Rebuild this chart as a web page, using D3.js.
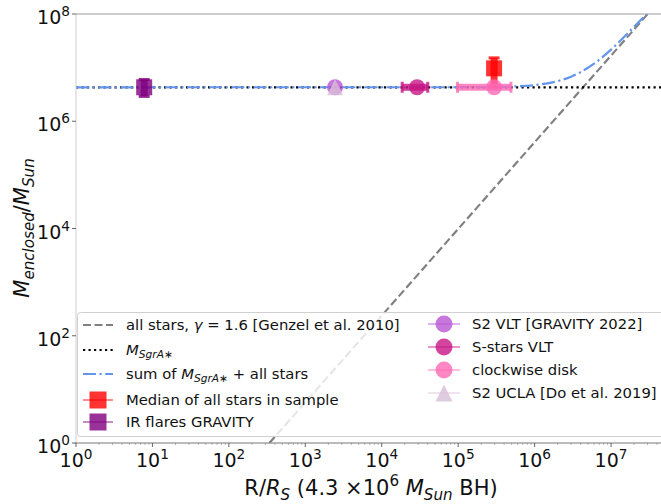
<!DOCTYPE html>
<html>
<head>
<meta charset="utf-8">
<script src="https://cdn.jsdelivr.net/npm/d3@7"></script>
<style>
  body { margin: 0; background: #fff; }
  text { font-family: "DejaVu Sans", sans-serif; }
</style>
</head>
<body>
<svg id="chart"></svg>
<script>
// ---- data ----
var sgrR = [1, 5e7];
var sgrM = [4.3e6, 4.3e6];

// all stars, gamma = 1.6 (straight in log-log)
var starsR = [339, 3.2e7];
var starsM = [1, 1.1e8];

// sum of M_SgrA* + all stars
var sumR = [1, 1e5, 3e5, 5e5, 1e6, 2e6, 3e6, 4e6, 6e6, 1e7, 1.5e7, 2e7, 3.2e7];
var sumM = [4.3e6, 4.31e6, 4.35e6, 4.44e6, 4.72e6, 5.6e6, 6.78e6, 8.25e6, 1.19e7, 2.17e7, 3.79e7, 5.79e7, 1.14e8];

// measurements
var ptNames = ["Median of all stars in sample", "IR flares GRAVITY", "S2 VLT [GRAVITY 2022]",
               "S-stars VLT", "clockwise disk", "S2 UCLA [Do et al. 2019]"];
var ptR    = [2.95e5, 7.8, 2450, 2.9e4, 2.95e5, 2450];
var ptM    = [9.7e6, 4.3e6, 4.3e6, 4.3e6, 4.3e6, 4.3e6];
var ptRlo  = [null, null, null, 1.85e4, 9.8e4, null];
var ptRhi  = [null, null, null, 4.0e4, 4.9e5, null];
var ptMlo  = [4.3e6, 2.9e6, null, null, null, null];
var ptMhi  = [1.52e7, 6.0e6, null, null, null, null];
var ptColor = ["red", "purple", "mediumorchid", "mediumvioletred", "hotpink", "thistle"];
var ptShape = ["square", "square", "circle", "circle", "circle", "triangle"];

var xTicks = [1e0, 1e1, 1e2, 1e3, 1e4, 1e5, 1e6, 1e7];
var yTicks = [1e0, 1e2, 1e4, 1e6, 1e8];

// ---- layout ----
var width = 661, height = 504;
var mLeft = 76, mTop = 14, mBottom = 443, mRight = 661.5;
var xMax = Math.pow(10, 7.66);

var svg = d3.select("#chart").attr("width", width).attr("height", height);

var x = d3.scaleLog().domain([1, xMax]).range([mLeft, mRight]);
var y = d3.scaleLog().domain([1, 1e8]).range([mBottom, mTop]);

svg.append("clipPath").attr("id", "clip")
  .append("rect").attr("x", mLeft).attr("y", mTop)
  .attr("width", mRight - mLeft).attr("height", mBottom - mTop);

// rich text helper: parts = [[text, flags]] flags: i italic, b sub, p sup
function rich(t, parts, size) {
  var shift = 0;
  parts.forEach(function(p) {
    var s = t.append("tspan").text(p[0]);
    var f = p[1] || "";
    var target = 0;
    if (f.indexOf("b") >= 0) target = 0.22 * size;
    if (f.indexOf("p") >= 0) target = -0.42 * size;
    if (target !== shift) { s.attr("dy", target - shift); shift = target; }
    s.attr("font-size", (f.indexOf("b") >= 0 || f.indexOf("p") >= 0) ? size * 0.72 : size);
    if (f.indexOf("i") >= 0) s.attr("font-style", "italic");
  });
  return t;
}

var plot = svg.append("g").attr("clip-path", "url(#clip)");

var line = d3.line().x(function(d) { return x(d[0]); }).y(function(d) { return y(d[1]); });

plot.append("path")
  .attr("d", line(d3.zip(starsR, starsM)))
  .attr("fill", "none").attr("stroke", "gray").attr("stroke-width", 2.2)
  .attr("stroke-dasharray", "8,3.5");

plot.append("path")
  .attr("d", line(d3.zip(sgrR, sgrM)))
  .attr("fill", "none").attr("stroke", "black").attr("stroke-width", 2.2)
  .attr("stroke-dasharray", "2.2,3.3");

plot.append("path")
  .attr("d", line.curve(d3.curveMonotoneX)(d3.zip(sumR, sumM)))
  .attr("fill", "none").attr("stroke", "cornflowerblue").attr("stroke-width", 2.2)
  .attr("stroke-dasharray", "13,3.5,2.2,3.5");
line.curve(d3.curveLinear);

function markerPath(shape, s) {
  var h = s / 2;
  if (shape === "square") return "M" + (-h) + "," + (-h) + "h" + s + "v" + s + "h" + (-s) + "Z";
  if (shape === "triangle") return "M0," + (-h) + "L" + h + "," + h + "L" + (-h) + "," + h + "Z";
  return d3.symbol().type(d3.symbolCircle).size(Math.PI * h * h)();
}

var alpha = 0.8;
ptNames.forEach(function(name, i) {
  var g = plot.append("g");
  var cx = x(ptR[i]), cy = y(ptM[i]), c = ptColor[i];
  if (ptRlo[i] !== null) {
    var x0 = x(ptRlo[i]), x1 = x(ptRhi[i]);
    g.append("line").attr("x1", x0).attr("x2", x1).attr("y1", cy).attr("y2", cy)
      .attr("stroke", c).attr("stroke-opacity", alpha).attr("stroke-width", 7);
    [x0, x1].forEach(function(xx) {
      g.append("line").attr("x1", xx).attr("x2", xx).attr("y1", cy - 5.5).attr("y2", cy + 5.5)
        .attr("stroke", c).attr("stroke-opacity", alpha).attr("stroke-width", 3);
    });
  }
  if (ptMlo[i] !== null) {
    var y0 = y(ptMlo[i]), y1 = y(ptMhi[i]);
    g.append("line").attr("x1", cx).attr("x2", cx).attr("y1", y0).attr("y2", y1)
      .attr("stroke", c).attr("stroke-opacity", alpha).attr("stroke-width", 7);
    [y0, y1].forEach(function(yy) {
      g.append("line").attr("x1", cx - 5.5).attr("x2", cx + 5.5).attr("y1", yy).attr("y2", yy)
        .attr("stroke", c).attr("stroke-opacity", alpha).attr("stroke-width", 3);
    });
  }
  g.append("path").attr("d", markerPath(ptShape[i], 16))
    .attr("transform", "translate(" + cx + "," + cy + ")")
    .attr("fill", c).attr("fill-opacity", alpha);
});

// ---- spines and ticks ----
svg.append("line").attr("x1", mLeft).attr("x2", mLeft).attr("y1", mTop).attr("y2", mBottom)
  .attr("stroke", "#cfcfcf").attr("stroke-width", 1);
svg.append("line").attr("x1", mLeft).attr("x2", 661).attr("y1", mTop).attr("y2", mTop)
  .attr("stroke", "#999").attr("stroke-width", 1);
svg.append("line").attr("x1", mLeft - 0.5).attr("x2", 661).attr("y1", mBottom).attr("y2", mBottom)
  .attr("stroke", "#777").attr("stroke-width", 1.2);

// minor x ticks
var minor = [];
for (var e = 0; e < 8; e++) for (var m = 2; m < 10; m++) {
  var v = m * Math.pow(10, e);
  if (v < xMax) minor.push(v);
}
svg.selectAll(".xminor").data(minor).enter().append("line")
  .attr("x1", function(d) { return x(d); }).attr("x2", function(d) { return x(d); })
  .attr("y1", mBottom).attr("y2", mBottom + 2)
  .attr("stroke", "#888").attr("stroke-width", 0.6);

xTicks.forEach(function(v) {
  var px = x(v);
  svg.append("line").attr("x1", px).attr("x2", px).attr("y1", mBottom).attr("y2", mBottom + 4)
    .attr("stroke", "#555").attr("stroke-width", 0.9);
  var t = svg.append("text").attr("x", px).attr("y", mBottom + 24)
    .attr("text-anchor", "middle").attr("fill", "#111");
  rich(t, [["10"], [String(Math.round(Math.log10(v))), "p"]], 19);
});

yTicks.forEach(function(v) {
  var py = y(v);
  svg.append("line").attr("x1", mLeft - 4).attr("x2", mLeft).attr("y1", py).attr("y2", py)
    .attr("stroke", "#555").attr("stroke-width", 0.9);
  var t = svg.append("text").attr("x", mLeft - 6).attr("y", py + 10)
    .attr("text-anchor", "end").attr("fill", "#111");
  rich(t, [["10"], [String(Math.round(Math.log10(v))), "p"]], 19);
});

// axis labels
rich(svg.append("text").attr("x", 371).attr("y", 495).attr("text-anchor", "middle").attr("fill", "#111"),
  [["R/"], ["R", "i"], ["S", "ib"], [" (4.3 \u00d710"], ["6", "p"], [" "], ["M", "i"], ["Sun", "ib"], [" BH)"]], 21);

rich(svg.append("text").attr("transform", "translate(29,228) rotate(-90)")
  .attr("text-anchor", "middle").attr("fill", "#111"),
  [["M", "i"], ["enclosed", "ib"], ["/"], ["M", "i"], ["Sun", "ib"]], 21);

// ---- legend ----
var leg = svg.append("g");
leg.append("rect").attr("x", 77.5).attr("y", 312.5).attr("width", 600).attr("height", 124)
  .attr("rx", 3).attr("fill", "white").attr("fill-opacity", 0.8)
  .attr("stroke", "#d0d0d0").attr("stroke-width", 1);

var legLines = [
  { stroke: "gray", dash: "8,3.5", parts: [["all stars, "], ["\u03b3", "i"], [" = 1.6 [Genzel et al. 2010]"]] },
  { stroke: "black", dash: "2.2,3.3", parts: [["M", "i"], ["SgrA\u2217", "ib"]] },
  { stroke: "cornflowerblue", dash: "13,3.5,2.2,3.5", parts: [["sum of "], ["M", "i"], ["SgrA\u2217", "ib"], [" + all stars"]] }
];
var col1Y = [325, 350, 374, 400, 422];
var col2Y = [324, 347, 370, 393];

legLines.forEach(function(d, i) {
  var yy = col1Y[i];
  leg.append("line").attr("x1", 83).attr("x2", 113).attr("y1", yy).attr("y2", yy)
    .attr("stroke", d.stroke).attr("stroke-width", 2.2).attr("stroke-dasharray", d.dash);
  rich(leg.append("text").attr("x", 126).attr("y", yy + 5).attr("fill", "#111"), d.parts, 14.8);
});

ptNames.forEach(function(name, i) {
  var yy, x0, x1, tx;
  if (i < 2) { yy = col1Y[i + 3]; x0 = 83; x1 = 113; tx = 126; }
  else { yy = col2Y[i - 2]; x0 = 428; x1 = 460; tx = 472; }
  var cx = (x0 + x1) / 2, c = ptColor[i];
  leg.append("line").attr("x1", x0).attr("x2", x1).attr("y1", yy).attr("y2", yy)
    .attr("stroke", c).attr("stroke-opacity", 0.6).attr("stroke-width", 1.5);
  leg.append("path").attr("d", markerPath(ptShape[i], 17))
    .attr("transform", "translate(" + cx + "," + yy + ")")
    .attr("fill", c).attr("fill-opacity", alpha);
  leg.append("text").attr("x", tx).attr("y", yy + 5).attr("font-size", 14.8)
    .attr("fill", "#111").text(name);
});
</script>
</body>
</html>
